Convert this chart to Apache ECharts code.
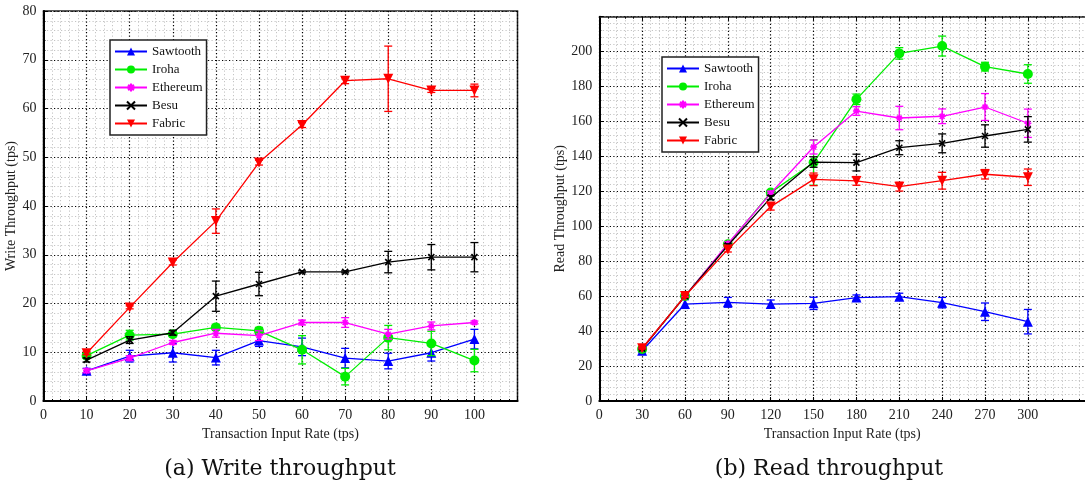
<!DOCTYPE html>
<html>
<head>
<meta charset="utf-8">
<script src="https://cdn.jsdelivr.net/npm/echarts@6/dist/echarts.min.js"></script>
<style>
  html, body { margin: 0; padding: 0; background: #fff; }
  #chart { width: 1085px; height: 486px; }
</style>
</head>
<body>
<div id="chart"></div>
<script>
// series names and colours
const names = ['Sawtooth', 'Iroha', 'Ethereum', 'Besu', 'Fabric'];

// (a) write throughput
const writeX = [10, 20, 30, 40, 50, 60, 70, 80, 90, 100];
const writeSawtooth = [6.2, 9.2, 9.9, 8.9, 12.4, 11.1, 8.8, 8.2, 9.9, 12.7];
const writeSawtoothErr = [0.5, 1.2, 1.9, 1.5, 1.2, 1.8, 2.0, 1.6, 1.7, 2.0];
const writeIroha = [9.3, 13.5, 13.7, 15.1, 14.4, 10.5, 5.0, 13.0, 11.8, 8.3];
const writeIrohaErr = [0.4, 1.0, 0.5, 0.5, 0.7, 2.9, 1.7, 2.5, 2.5, 2.3];
const writeEthereum = [6.2, 8.8, 12.0, 13.9, 13.4, 16.1, 16.1, 13.7, 15.4, 16.1];
const writeEthereumErr = [0.4, 0.5, 0.4, 0.8, 1.0, 0.5, 1.0, 1.0, 0.8, 0.3];
const writeBesu = [8.4, 12.5, 14.0, 21.5, 24.0, 26.5, 26.5, 28.5, 29.5, 29.5];
const writeBesuErr = [0.4, 0.7, 0.5, 3.1, 2.4, 0.2, 0.2, 2.2, 2.6, 3.0];
const writeFabric = [9.8, 19.2, 28.4, 36.9, 48.9, 56.6, 65.7, 66.1, 63.7, 63.7];
const writeFabricErr = [0.3, 0.3, 0.5, 2.5, 0.5, 0.5, 0.6, 6.7, 0.4, 1.3];

// (b) read throughput
const readX = [30, 60, 90, 120, 150, 180, 210, 240, 270, 300];
const readSawtooth = [28.8, 55.5, 56.5, 55.5, 55.9, 59.2, 59.7, 56.3, 51.1, 45.4];
const readSawtoothErr = [0.8, 2.5, 2.8, 2.3, 3.5, 1.5, 2.0, 3.0, 5.0, 7.0];
const readIroha = [29.8, 60.1, 89.7, 119.3, 136.5, 172.7, 199.0, 203.2, 191.4, 187.2];
const readIrohaErr = [0.8, 0.8, 1.0, 1.2, 13.0, 3.0, 3.3, 5.7, 2.5, 5.3];
const readEthereum = [30.0, 60.0, 90.0, 118.9, 145.4, 166.0, 162.0, 163.0, 168.3, 159.0];
const readEthereumErr = [0.5, 0.8, 1.0, 1.2, 4.0, 2.5, 6.7, 4.2, 7.7, 8.1];
const readBesu = [30.0, 60.0, 89.0, 116.4, 136.8, 136.5, 145.0, 147.5, 151.7, 155.5];
const readBesuErr = [0.5, 0.8, 1.0, 1.2, 3.0, 4.8, 4.0, 5.4, 6.4, 7.3];
const readFabric = [30.2, 60.1, 86.8, 111.3, 126.9, 126.0, 122.7, 126.1, 129.8, 128.1];
const readFabricErr = [0.5, 0.8, 1.5, 2.0, 3.6, 2.5, 2.5, 4.8, 2.7, 4.7];

// x ticks shown on the read chart
const readTicks = [0, 30, 60, 90, 120, 150, 180, 210, 240, 270, 300];

const colors = ['#0000ff', '#00ee00', '#ff00ff', '#000000', '#ff0000'];
const FONT = 'Liberation Serif';

const symX = 'path://M0,0 L10,10 M10,0 L0,10';
const symStar = 'path://M5,0 L5,10 M0,5 L10,5 M1.5,1.5 L8.5,8.5 M8.5,1.5 L1.5,8.5';
const symbols = ['triangle', 'circle', symStar, symX, 'triangle'];
const symSizes = [10, 10, 7, 6, 10];

function lineSeries(idx, xs, ys, axisIdx) {
  const c = colors[idx];
  const stroked = idx === 2 || idx === 3;
  return {
    name: names[idx],
    type: 'line',
    xAxisIndex: axisIdx,
    yAxisIndex: axisIdx,
    data: xs.map((x, i) => [x, ys[i]]),
    symbol: symbols[idx],
    symbolSize: symSizes[idx],
    symbolRotate: idx === 4 ? 180 : 0,
    showAllSymbol: true,
    z: 3 + idx,
    lineStyle: { color: c, width: 1.3 },
    itemStyle: stroked
      ? { color: c, borderColor: c, borderWidth: 1.6 }
      : { color: c, borderColor: c, borderWidth: 0 },
    emphasis: { disabled: true },
    animation: false
  };
}

function errSeries(idx, xs, ys, errs, axisIdx) {
  const c = colors[idx];
  return {
    name: names[idx] + ' err',
    type: 'custom',
    xAxisIndex: axisIdx,
    yAxisIndex: axisIdx,
    z: 3 + idx,
    data: xs.map((x, i) => [x, ys[i] - errs[i], ys[i] + errs[i]]),
    renderItem: function (params, api) {
      const lo = api.coord([api.value(0), api.value(1)]);
      const hi = api.coord([api.value(0), api.value(2)]);
      const w = 4;
      const st = { stroke: c, lineWidth: 1.3 };
      return {
        type: 'group',
        children: [
          { type: 'line', shape: { x1: lo[0], y1: lo[1], x2: hi[0], y2: hi[1] }, style: st },
          { type: 'line', shape: { x1: lo[0] - w, y1: lo[1], x2: lo[0] + w, y2: lo[1] }, style: st },
          { type: 'line', shape: { x1: hi[0] - w, y1: hi[1], x2: hi[0] + w, y2: hi[1] }, style: st }
        ]
      };
    },
    animation: false
  };
}

function valueAxis(idx, max, interval, hideAbove, extra) {
  return Object.assign({
    type: 'value',
    gridIndex: idx,
    min: 0,
    max: max,
    interval: interval,
    axisLine: { show: true, onZero: false, lineStyle: { color: '#000', width: 2 } },
    axisTick: { show: true, inside: true, length: 4, lineStyle: { color: '#000', width: 1 } },
    minorTick: { show: true, splitNumber: 5, length: 2, lineStyle: { color: '#000' } },
    axisLabel: {
      color: '#222', fontFamily: FONT, fontSize: 14, margin: 7,
      formatter: v => (v > hideAbove ? '' : String(v))
    },
    splitLine: { show: true, lineStyle: { color: '#000', width: 1.2, type: [1.2, 2.3] } },
    minorSplitLine: { show: true, lineStyle: { color: '#c4c4c4', width: 1, type: [1.2, 2.3] } },
    nameTextStyle: { color: '#222', fontFamily: FONT, fontSize: 14 }
  }, extra);
}

const writeSets = [
  [writeSawtooth, writeSawtoothErr], [writeIroha, writeIrohaErr],
  [writeEthereum, writeEthereumErr], [writeBesu, writeBesuErr], [writeFabric, writeFabricErr]
];
const readSets = [
  [readSawtooth, readSawtoothErr], [readIroha, readIrohaErr],
  [readEthereum, readEthereumErr], [readBesu, readBesuErr], [readFabric, readFabricErr]
];

const series = [];
writeSets.forEach((s, i) => {
  series.push(errSeries(i, writeX, s[0], s[1], 0));
  series.push(lineSeries(i, writeX, s[0], 0));
});
readSets.forEach((s, i) => {
  series.push(errSeries(i, readX, s[0], s[1], 1));
  series.push(lineSeries(i, readX, s[0], 1));
});

const legendBase = {
  orient: 'vertical',
  data: names,
  itemWidth: 32,
  itemHeight: 10,
  itemGap: 5,
  padding: [5, 4, 5, 4],
  backgroundColor: '#fff',
  borderColor: '#222',
  borderWidth: 1.5,
  borderRadius: 0,
  selectedMode: false,
  textStyle: { color: '#111', fontFamily: FONT, fontSize: 13 }
};

const readXAxis = valueAxis(1, 340, 30, 300, {
  name: 'Transaction Input Rate (tps)', nameLocation: 'middle', nameGap: 24
});
readXAxis.axisTick = Object.assign({}, readXAxis.axisTick, { customValues: readTicks });
readXAxis.axisLabel = Object.assign({}, readXAxis.axisLabel, { customValues: readTicks });

// top border of the read chart (its right edge falls outside the picture)
const readTopAxis = {
  type: 'value', gridIndex: 1, position: 'top', min: 0, max: 340, interval: 30,
  axisLine: { show: true, onZero: false, lineStyle: { color: '#222', width: 1.5 } },
  axisTick: { show: true, inside: true, length: 4, customValues: readTicks, lineStyle: { color: '#000' } },
  minorTick: { show: true, splitNumber: 5, length: 2, lineStyle: { color: '#000' } },
  axisLabel: { show: false },
  splitLine: { show: false }
};

const chart = echarts.init(document.getElementById('chart'));
chart.setOption({
  animation: false,
  backgroundColor: '#fff',
  title: [
    { text: '(a) Write throughput', left: 275, top: 453, textAlign: 'center',
      textStyle: { fontFamily: 'DejaVu Serif', fontSize: 22, fontWeight: 'normal', color: '#111' } },
    { text: '(b) Read throughput', left: 824, top: 453, textAlign: 'center',
      textStyle: { fontFamily: 'DejaVu Serif', fontSize: 22, fontWeight: 'normal', color: '#111' } }
  ],
  grid: [
    { left: 43.5, top: 11, width: 474, height: 390, show: true, borderColor: '#222', borderWidth: 1.5 },
    { left: 599.3, top: 16.7, width: 485.7, height: 384.3, show: false }
  ],
  legend: [
    Object.assign({}, legendBase, { left: 110, top: 40 }),
    Object.assign({}, legendBase, { left: 662, top: 57 })
  ],
  xAxis: [
    valueAxis(0, 110, 10, 100, { name: 'Transaction Input Rate (tps)', nameLocation: 'middle', nameGap: 24 }),
    readXAxis,
    readTopAxis
  ],
  yAxis: [
    valueAxis(0, 80, 10, 80, { name: 'Write Throughput (tps)', nameLocation: 'middle', nameGap: 21 }),
    valueAxis(1, 220, 20, 200, { name: 'Read Throughput (tps)', nameLocation: 'middle', nameGap: 28 })
  ],
  series: series
});
</script>
</body>
</html>
